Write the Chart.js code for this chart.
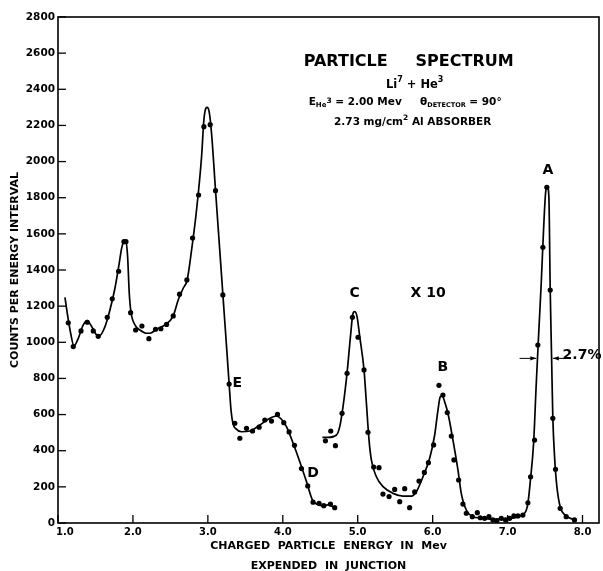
<!DOCTYPE html>
<html><head><meta charset="utf-8">
<script src="https://cdn.jsdelivr.net/npm/chart.js@4.4.1/dist/chart.umd.min.js"></script>
<style>html,body{margin:0;padding:0;background:#fff;}#wrap{width:603px;height:571px;}</style>
</head><body><div id="wrap"><canvas id="c" width="603" height="571"></canvas></div>
<script>
// ---- data ----
const xTickValues = [1, 2, 3, 4, 5, 6, 7, 8];
const yTickStep = 200;

const mainCurveEnergy = [1.093,1.124,1.169,1.213,1.271,1.337,1.391,1.449,1.516,1.551,1.627,1.693,1.76,1.817,1.849,1.88,1.907,1.929,1.951,1.973,2.027,2.093,2.182,2.227,2.316,2.427,2.538,2.604,2.671,2.724,2.783,2.849,2.916,2.947,2.973,2.991,3.017,3.049,3.102,3.16,3.204,3.249,3.284,3.31,3.335,3.373,3.449,3.56,3.693,3.804,3.916,3.982,4.049,4.138,4.227,4.316,4.396,4.449,4.516,4.604,4.693];
const mainCurveCounts = [1249,1160,1050,980,1022,1096,1120,1087,1040,1035,1087,1179,1299,1437,1520,1557,1559,1474,1271,1169,1096,1068,1050,1050,1072,1096,1146,1234,1299,1345,1511,1732,2027,2230,2295,2300,2276,2157,1843,1502,1243,978,769,620,550,522,505,509,542,574,592,574,533,441,339,229,127,105,96,100,85];

const mainDotsEnergy = [1.137,1.204,1.307,1.391,1.471,1.537,1.657,1.724,1.809,1.88,1.907,1.969,2.036,2.12,2.213,2.302,2.373,2.449,2.538,2.622,2.72,2.796,2.876,2.947,3.031,3.102,3.2,3.284,3.36,3.427,3.516,3.596,3.684,3.76,3.849,3.929,4.013,4.084,4.156,4.249,4.333,4.404,4.484,4.547,4.636,4.693];
const mainDotsCounts = [1108,976,1063,1111,1063,1033,1138,1241,1393,1557,1557,1164,1068,1090,1020,1072,1075,1099,1146,1266,1345,1577,1815,2193,2204,1839,1262,769,552,469,524,509,530,570,564,601,555,504,430,301,205,115,109,96,105,85];

const x10CurveEnergy = [4.529,4.604,4.716,4.76,4.804,4.857,4.903,4.937,4.96,4.991,5.027,5.084,5.116,5.151,5.182,5.249,5.338,5.471,5.604,5.716,5.782,5.871,5.96,6.027,6.071,6.102,6.129,6.16,6.204,6.271,6.338,6.382,6.449,6.538,6.65,6.804,7.027,7.227,7.271,7.307,7.347,7.383,7.413,7.449,7.48,7.507,7.529,7.551,7.569,7.587,7.604,7.627,7.658,7.702,7.782,7.893];
const x10CurveCounts = [474,474,487,533,644,828,1031,1160,1170,1142,1031,847,662,459,349,256,201,164,149,149,173,256,358,487,625,699,703,671,607,459,293,164,72,35,28,20,26,54,109,247,441,773,1031,1327,1621,1825,1865,1806,1289,920,579,367,201,90,39,17];

const x10DotsEnergy = [4.569,4.64,4.703,4.791,4.858,4.929,5.004,5.084,5.137,5.213,5.284,5.337,5.418,5.493,5.56,5.627,5.693,5.76,5.818,5.889,5.943,6.013,6.084,6.137,6.195,6.249,6.284,6.347,6.404,6.449,6.529,6.596,6.636,6.693,6.751,6.804,6.858,6.916,6.973,7.027,7.084,7.138,7.204,7.271,7.307,7.36,7.404,7.471,7.524,7.569,7.604,7.64,7.702,7.782,7.893];
const x10DotsCounts = [455,509,428,607,828,1138,1028,847,502,310,306,160,146,186,118,190,85,172,232,280,334,432,762,708,611,481,349,238,105,54,35,57,29,26,35,17,13,26,17,26,39,39,44,112,256,459,985,1526,1858,1289,579,297,81,35,17];

const pts = (xs, ys) => xs.map((x, i) => ({x, y: ys[i]}));

// ---- annotations (positions in data units) ----
const FONT = "'DejaVu Sans', sans-serif";
const notes = [
  {x: 5.68, y: 2551, parts: [{t: 'PARTICLE     SPECTRUM', s: 16}]},
  {x: 5.76, y: 2424, parts: [{t: 'Li', s: 11.5}, {t: '7', s: 8, dy: -5}, {t: ' + He', s: 11.5}, {t: '3', s: 8, dy: -5}]},
  {x: 5.633, y: 2330, parts: [{t: 'E', s: 10.5}, {t: 'He', s: 7, dy: 3}, {t: '3', s: 7.5, dy: -1}, {t: ' = 2.00 Mev', s: 10.5}, {t: '     ', s: 10.5}, {t: 'θ', s: 10.5}, {t: 'DETECTOR', s: 6.5, dy: 3}, {t: ' = 90°', s: 10.5}]},
  {x: 5.733, y: 2219, parts: [{t: '2.73 mg/cm', s: 10.5}, {t: '2', s: 7.5, dy: -4}, {t: ' Al ABSORBER', s: 10.5}]},
  {x: 4.96, y: 1273, parts: [{t: 'C', s: 14}]},
  {x: 5.94, y: 1273, parts: [{t: 'X 10', s: 14}]},
  {x: 6.137, y: 863, parts: [{t: 'B', s: 14}]},
  {x: 3.393, y: 773, parts: [{t: 'E', s: 14}]},
  {x: 4.404, y: 275, parts: [{t: 'D', s: 14}]},
  {x: 7.537, y: 1953, parts: [{t: 'A', s: 14}]},
  {x: 7.993, y: 925, parts: [{t: '2.7%', s: 14}]}
];
const widthArrows = [
  {from: 7.16, to: 7.383, y: 911},
  {from: 7.827, to: 7.604, y: 911}
];

const framePlugin = {
  id: 'frame',
  afterDraw(chart) {
    const {ctx, chartArea: a, scales: {x, y}} = chart;
    ctx.save();
    ctx.strokeStyle = '#000';
    ctx.lineWidth = 1.6;
    ctx.strokeRect(a.left, a.top, a.right - a.left, a.bottom - a.top);
    ctx.lineWidth = 1.3;
    x.ticks.forEach(t => {
      const p = x.getPixelForValue(t.value);
      ctx.beginPath(); ctx.moveTo(p, a.bottom); ctx.lineTo(p, a.bottom - 8); ctx.stroke();
    });
    y.ticks.forEach(t => {
      const p = y.getPixelForValue(t.value);
      ctx.beginPath(); ctx.moveTo(a.left, p); ctx.lineTo(a.left + 8, p); ctx.stroke();
    });
    // annotations
    ctx.fillStyle = '#000';
    ctx.textBaseline = 'middle';
    ctx.textAlign = 'left';
    notes.forEach(n => {
      let w = 0;
      n.parts.forEach(p => { ctx.font = 'bold ' + p.s + 'px ' + FONT; w += ctx.measureText(p.t).width; });
      let cx = x.getPixelForValue(n.x) - w / 2;
      const cy = y.getPixelForValue(n.y);
      n.parts.forEach(p => {
        ctx.font = 'bold ' + p.s + 'px ' + FONT;
        ctx.fillText(p.t, cx, cy + (p.dy || 0));
        cx += ctx.measureText(p.t).width;
      });
    });
    // width arrows
    ctx.lineWidth = 1;
    widthArrows.forEach(ar => {
      const x0 = x.getPixelForValue(ar.from), x1 = x.getPixelForValue(ar.to), py = y.getPixelForValue(ar.y);
      const dir = Math.sign(x1 - x0);
      ctx.beginPath(); ctx.moveTo(x0, py); ctx.lineTo(x1, py); ctx.stroke();
      ctx.beginPath(); ctx.moveTo(x1, py); ctx.lineTo(x1 - dir * 6, py - 2.2); ctx.lineTo(x1 - dir * 6, py + 2.2); ctx.closePath(); ctx.fill();
    });
    ctx.restore();
  }
};

const curveStyle = {showLine: true, pointRadius: 0, borderColor: '#000', borderWidth: 1.7, cubicInterpolationMode: 'monotone', fill: false};
const dotStyle = {showLine: false, pointRadius: 2.6, pointBackgroundColor: '#000', pointBorderWidth: 0, borderColor: '#000'};

new Chart(document.getElementById('c'), {
  type: 'scatter',
  data: {datasets: [
    Object.assign({data: pts(mainCurveEnergy, mainCurveCounts)}, curveStyle),
    Object.assign({data: pts(x10CurveEnergy, x10CurveCounts)}, curveStyle),
    Object.assign({data: pts(mainDotsEnergy, mainDotsCounts)}, dotStyle),
    Object.assign({data: pts(x10DotsEnergy, x10DotsCounts)}, dotStyle)
  ]},
  options: {
    responsive: false, animation: false, devicePixelRatio: 1,
    layout: {padding: {left: 0, right: 3, top: 17, bottom: 0}},
    plugins: {legend: {display: false}, tooltip: {enabled: false}},
    scales: {
      x: {
        type: 'linear', min: 1.0, max: 8.22,
        afterBuildTicks: s => { s.ticks = xTickValues.map(v => ({value: v})); },
        afterFit: s => { s.height = 48; },
        grid: {display: false, drawTicks: false}, border: {display: false},
        ticks: {color: '#000', padding: 3, font: {family: FONT, size: 10, weight: 'bold'},
          callback: v => (v === 1 ? '    ' : '') + Number(v).toFixed(1)},
        title: {display: true, color: '#000', text: ['CHARGED  PARTICLE  ENERGY  IN  Mev', 'EXPENDED  IN  JUNCTION'],
          font: {family: FONT, size: 11, weight: 'bold', lineHeight: 20 / 11}, padding: {top: 0, bottom: -5}}
      },
      y: {
        type: 'linear', min: 0, max: 2800,
        afterFit: s => { s.width = 58; },
        grid: {display: false, drawTicks: false}, border: {display: false},
        ticks: {stepSize: yTickStep, color: '#000', padding: 3, font: {family: FONT, size: 10.5, weight: 'bold'},
          callback: v => String(v)},
        title: {display: true, color: '#000', text: 'COUNTS PER ENERGY INTERVAL',
          font: {family: FONT, size: 11, weight: 'bold', lineHeight: 1.2}, padding: {top: 8.4, bottom: 0}}
      }
    }
  },
  plugins: [framePlugin]
});
</script></body></html>
